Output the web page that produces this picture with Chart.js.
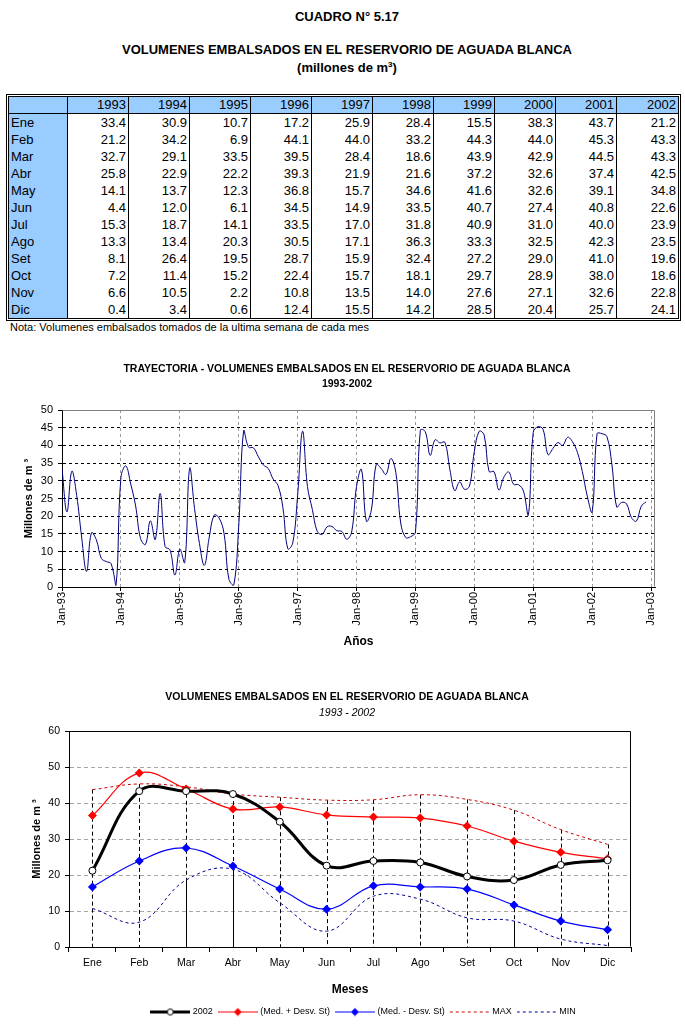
<!DOCTYPE html>
<html><head><meta charset="utf-8">
<script src="https://cdn.jsdelivr.net/npm/chart.js@4"></script>
<style>
html,body{margin:0;padding:0;width:685px;height:1025px;overflow:hidden;background:#fff;font-family:'Liberation Sans',Arial,sans-serif;color:#000}
.t{position:absolute;left:0;width:694px;text-align:center;white-space:nowrap;font-weight:bold}
#tbl{position:absolute;left:6px;top:94px;border:3px double #000;border-spacing:0;table-layout:fixed;width:675px;font-size:13px}
#tbl td{box-sizing:border-box;height:17px;line-height:16px;padding:0 2px;border-right:1px solid #000;text-align:right;white-space:nowrap;overflow:hidden}
#tbl td:last-child{border-right:none}
#tbl tr.h td{border-bottom:1px solid #000;background:#99CCFF}
#tbl td.l{text-align:left;background:#99CCFF}
.note{position:absolute;left:10px;top:321px;font-size:11px;white-space:nowrap}
canvas{position:absolute;left:0}
</style></head>
<body>
<div class="t" style="top:9px;font-size:13px;line-height:16px">CUADRO N° 5.17</div>
<div class="t" style="top:42px;font-size:13px;line-height:16px">VOLUMENES EMBALSADOS EN EL RESERVORIO DE AGUADA BLANCA</div>
<div class="t" style="top:57px;font-size:13px;line-height:16px">(millones de m<span style="font-size:8px;vertical-align:5px">3</span>)</div>
<table id="tbl"></table>
<div class="note">Nota: Volumenes embalsados tomados de la ultima semana de cada mes</div>

<canvas id="c1" width="685" height="300" style="top:355px"></canvas>
<div class="t" style="top:362px;font-size:10.5px;line-height:13px">TRAYECTORIA - VOLUMENES EMBALSADOS EN EL RESERVORIO DE AGUADA BLANCA</div>
<div class="t" style="top:377px;font-size:10.5px;line-height:13px">1993-2002</div>

<canvas id="c3" width="728" height="346" style="top:680px"></canvas>
<div class="t" style="top:690px;font-size:10.5px;line-height:13px">VOLUMENES EMBALSADOS EN EL RESERVORIO DE AGUADA BLANCA</div>
<div class="t" style="top:706px;font-size:10.5px;line-height:13px;font-weight:normal;font-style:italic">1993 - 2002</div>

<script>
// ---------- DATA ----------
const months = ['Ene','Feb','Mar','Abr','May','Jun','Jul','Ago','Set','Oct','Nov','Dic'];
const years = ['1993','1994','1995','1996','1997','1998','1999','2000','2001','2002'];
const v1993 = [33.4,21.2,32.7,25.8,14.1,4.4,15.3,13.3,8.1,7.2,6.6,0.4];
const v1994 = [30.9,34.2,29.1,22.9,13.7,12.0,18.7,13.4,26.4,11.4,10.5,3.4];
const v1995 = [10.7,6.9,33.5,22.2,12.3,6.1,14.1,20.3,19.5,15.2,2.2,0.6];
const v1996 = [17.2,44.1,39.5,39.3,36.8,34.5,33.5,30.5,28.7,22.4,10.8,12.4];
const v1997 = [25.9,44.0,28.4,21.9,15.7,14.9,17.0,17.1,15.9,15.7,13.5,15.5];
const v1998 = [28.4,33.2,18.6,21.6,34.6,33.5,31.8,36.3,32.4,18.1,14.0,14.2];
const v1999 = [15.5,44.3,43.9,37.2,41.6,40.7,40.9,33.3,27.2,29.7,27.6,28.5];
const v2000 = [38.3,44.0,42.9,32.6,32.6,27.4,31.0,32.5,29.0,28.9,27.1,20.4];
const v2001 = [43.7,45.3,44.5,37.4,39.1,40.8,40.0,42.3,41.0,38.0,32.6,25.7];
const v2002 = [21.2,43.3,43.3,42.5,34.8,22.6,23.9,23.5,19.6,18.6,22.8,24.1];
const yearSeries = [v1993,v1994,v1995,v1996,v1997,v1998,v1999,v2000,v2001,v2002];

const xTickLabels = ['Jan-93','Jan-94','Jan-95','Jan-96','Jan-97','Jan-98','Jan-99','Jan-00','Jan-01','Jan-02','Jan-03'];

const medPlus  = [36.5,48.3,43.9,38.3,38.9,36.7,36.1,35.8,33.6,29.4,26.3,24.5];
const medMinus = [16.7,23.9,27.5,22.5,16.1,10.5,17.0,16.7,16.1,11.7,7.2,4.8];
const maxVals  = [43.7,45.3,44.5,42.5,41.6,40.8,40.9,42.3,41.0,38.0,32.6,28.5];
const minVals  = [10.7,6.9,18.6,21.6,12.3,4.4,14.1,13.3,8.1,7.2,2.2,0.4];

// ---------- TABLE ----------
(function(){
  let h = '<tr class="h"><td class="l" style="width:59px"></td>' +
    years.map(y => '<td style="width:61px">' + y + '</td>').join('') + '</tr>';
  months.forEach((m, i) => {
    h += '<tr><td class="l">' + m + '</td>' +
      yearSeries.map(s => '<td>' + s[i].toFixed(1) + '</td>').join('') + '</tr>';
  });
  document.getElementById('tbl').innerHTML = h;
})();

Chart.defaults.font.family = "'Liberation Sans', Arial, sans-serif";
Chart.defaults.color = '#000';

const plotBorder = {
  id: 'plotBorder',
  afterDatasetsDraw(chart, args, opts) {
    const {ctx, chartArea: a} = chart;
    const l = Math.round(a.left) + 0.5, r = Math.round(a.right) - 0.5, t = Math.round(a.top) + 0.5, b = Math.round(a.bottom) - 0.5;
    ctx.save();
    ctx.strokeStyle = opts.color; ctx.lineWidth = 1;
    ctx.beginPath();
    ctx.moveTo(l, t); ctx.lineTo(r, t); ctx.lineTo(r, b);
    ctx.stroke();
    ctx.restore();
  }
};

// ---------- CHART 1 : trajectory ----------
const trajectory = yearSeries.flat();
const xTickVals = xTickLabels.map((_, i) => i * 12);

new Chart(document.getElementById('c1'), {
  type: 'line',
  data: {
    datasets: [{
      data: trajectory.map((v, i) => ({x: i, y: v})),
      borderColor: '#000080', borderWidth: 1, pointRadius: 0, tension: 0.4, fill: false
    }]
  },
  options: {
    responsive: false, animation: false,
    layout: {padding: {left: 0, right: 30, top: 55, bottom: 0}},
    plugins: {legend: {display: false}, tooltip: {enabled: false}, plotBorder: {color: '#808080'}},
    scales: {
      x: {
        type: 'linear', min: 0, max: 120.8,
        afterBuildTicks: s => { s.ticks = xTickVals.map(v => ({value: v})); },
        afterFit: s => { s.height = 68; },
        ticks: {autoSkip: false, minRotation: 90, maxRotation: 90, padding: 1, font: {size: 11},
                callback: v => xTickLabels[Math.round(v / 12)]},
        grid: {color: c => (c.tick && c.tick.value === 0) ? 'rgba(0,0,0,0)' : '#9a9a9a', tickLength: 4, tickColor: '#000'},
        border: {display: true, color: '#000', width: 1, dash: [3, 3]},
        title: {display: true, text: 'Años', font: {size: 12, weight: 'bold'}, padding: {top: 0, bottom: 5.8}}
      },
      y: {
        min: 0, max: 50,
        afterFit: s => { s.width = 62; },
        ticks: {stepSize: 5, padding: 5, font: {size: 11}},
        grid: {color: c => (c.tick && (c.tick.value === 0 || c.tick.value === 50)) ? 'rgba(0,0,0,0)' : '#000', tickLength: 4, tickColor: '#000'},
        border: {display: true, color: '#000', width: 1, dash: [3, 3]},
        title: {display: true, text: 'Millones de m ³', font: {size: 11, weight: 'bold'}, padding: {top: 22.4, bottom: 0}}
      }
    }
  },
  plugins: [plotBorder]
});

// ---------- CHART 3 : monthly ----------
function legendSample(color, width, dash, marker) {
  const c = document.createElement('canvas'); c.width = 40; c.height = 10;
  const g = c.getContext('2d');
  g.strokeStyle = color; g.lineWidth = width; g.setLineDash(dash);
  g.beginPath(); g.moveTo(0, 5.5); g.lineTo(40, 5.5); g.stroke(); g.setLineDash([]);
  if (marker === 'circle') {
    g.beginPath(); g.arc(20, 5.5, 3, 0, 2 * Math.PI); g.fillStyle = '#fff'; g.fill();
    g.lineWidth = 1; g.strokeStyle = color; g.stroke();
  } else if (marker === 'diamond') {
    g.beginPath(); g.moveTo(16, 5.5); g.lineTo(20, 1.5); g.lineTo(24, 5.5); g.lineTo(20, 9.5); g.closePath();
    g.fillStyle = color; g.fill();
  }
  return c;
}
const legendImgs = [
  legendSample('#000', 3, [], 'circle'),
  legendSample('#FF0000', 1.2, [], 'diamond'),
  legendSample('#0000FF', 1.2, [], 'diamond'),
  legendSample('#CC0000', 1, [3, 3], null),
  legendSample('#000099', 1, [3, 3], null)
];

const dropLines = {
  id: 'dropLines',
  beforeDatasetsDraw(chart, args, opts) {
    const {ctx, scales: {x, y}} = chart;
    ctx.save();
    ctx.strokeStyle = '#000'; ctx.lineWidth = 1;
    const y0 = y.getPixelForValue(0);
    opts.top.forEach((v, i) => {
      const px = Math.round(x.getPixelForValue(i)) + 0.5;
      ctx.setLineDash([4, 3]);
      ctx.beginPath(); ctx.moveTo(px, y.getPixelForValue(v)); ctx.lineTo(px, y0); ctx.stroke();
      if (opts.solidIdx.includes(i)) {
        ctx.setLineDash([]);
        ctx.beginPath(); ctx.moveTo(px, y.getPixelForValue(opts.low[i])); ctx.lineTo(px, y0); ctx.stroke();
      }
    });
    ctx.restore();
  }
};

new Chart(document.getElementById('c3'), {
  type: 'line',
  data: {
    labels: months,
    datasets: [
      {label: '2002', data: v2002, borderColor: '#000', borderWidth: 3, tension: 0.4,
       pointStyle: 'circle', pointRadius: 3.5, pointBackgroundColor: '#fff', pointBorderColor: '#000', pointBorderWidth: 1},
      {label: '(Med. + Desv. St)', data: medPlus, borderColor: '#FF0000', borderWidth: 1.2, tension: 0.4,
       pointStyle: 'rectRot', pointRadius: 4.5, pointBackgroundColor: '#FF0000', pointBorderColor: '#FF0000', pointBorderWidth: 0},
      {label: '(Med. - Desv. St)', data: medMinus, borderColor: '#0000FF', borderWidth: 1.2, tension: 0.4,
       pointStyle: 'rectRot', pointRadius: 4.5, pointBackgroundColor: '#0000FF', pointBorderColor: '#0000FF', pointBorderWidth: 0},
      {label: 'MAX', data: maxVals, borderColor: '#CC0000', borderWidth: 1, borderDash: [3, 3], tension: 0.4, pointRadius: 0},
      {label: 'MIN', data: minVals, borderColor: '#000099', borderWidth: 1, borderDash: [3, 3], tension: 0.4, pointRadius: 0}
    ]
  },
  options: {
    responsive: false, animation: false,
    layout: {padding: {left: 0, right: 0, top: 51, bottom: 0}},
    plugins: {
      tooltip: {enabled: false},
      plotBorder: {color: '#000'},
      dropLines: {top: maxVals, low: minVals, solidIdx: [2, 3, 9]},
      legend: {
        position: 'bottom',
        labels: {
          usePointStyle: true, pointStyleWidth: 36, padding: 7, font: {size: 9}, color: '#000',
          generateLabels: chart => chart.data.datasets.map((ds, i) => ({
            text: ds.label, pointStyle: legendImgs[i], fillStyle: ds.borderColor, strokeStyle: ds.borderColor,
            lineWidth: 1, hidden: false, datasetIndex: i, fontColor: '#000'
          }))
        }
      }
    },
    scales: {
      x: {
        offset: true,
        afterFit: s => { s.height = 53; },
        ticks: {padding: 5, font: {size: 10.5}},
        grid: {offset: true, drawOnChartArea: false, tickLength: 5, color: '#000', tickColor: '#000'},
        border: {display: true, color: '#000', width: 1},
        title: {display: true, text: 'Meses', font: {size: 12, weight: 'bold'}, padding: {top: 0, bottom: 2.8}}
      },
      y: {
        min: 0, max: 60,
        afterFit: s => { s.width = 69; },
        ticks: {stepSize: 10, padding: 5, font: {size: 10.5}},
        grid: {color: c => (c.tick && (c.tick.value === 0 || c.tick.value === 60)) ? 'rgba(0,0,0,0)' : '#a6a6a6', tickLength: 4, tickColor: '#000'},
        border: {display: true, color: '#000', width: 1, dash: [4, 3]},
        title: {display: true, text: 'Millones de m ³', font: {size: 11, weight: 'bold'}, padding: {top: 30, bottom: 0}}
      },
      yR: {
        type: 'linear', position: 'right', display: true,
        afterFit: s => { s.width = 97; },
        ticks: {display: false}, grid: {display: false}, border: {display: false}
      }
    }
  },
  plugins: [plotBorder, dropLines]
});
</script>
</body></html>
